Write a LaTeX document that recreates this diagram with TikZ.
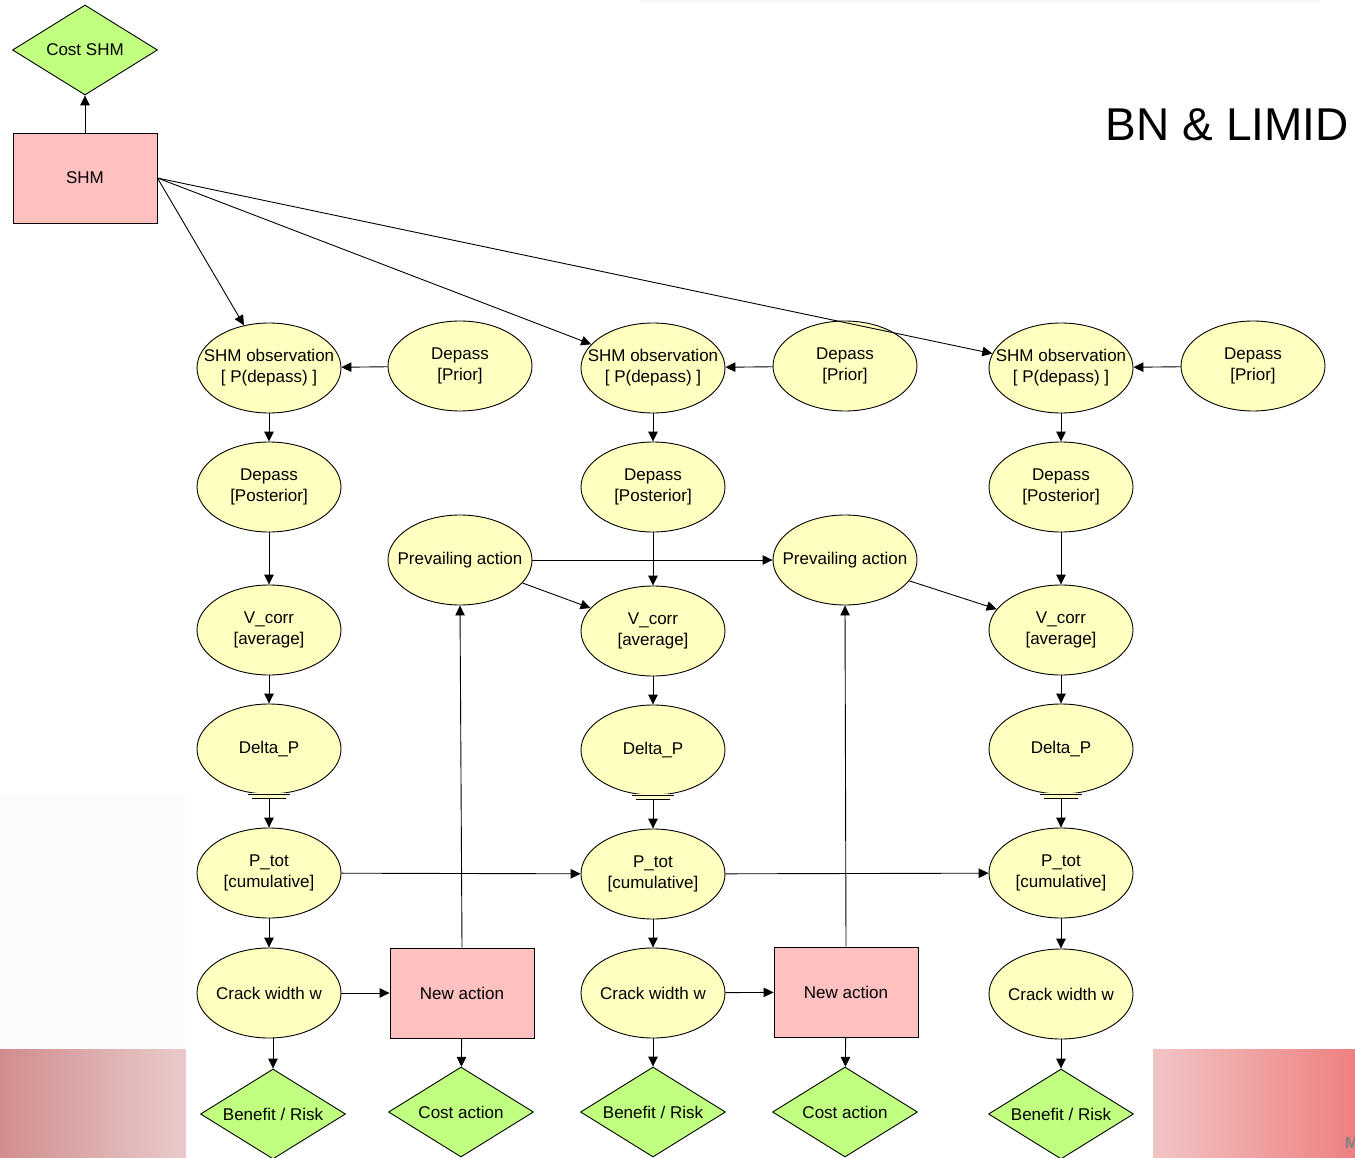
\documentclass[tikz,border=0pt]{standalone}
\usepackage{fontspec}
\setmainfont{Liberation Sans}
\usetikzlibrary{shapes.geometric,arrows.meta,calc}
\definecolor{chancefill}{RGB}{255,255,192}
\definecolor{decfill}{RGB}{255,192,192}
\definecolor{utilfill}{RGB}{192,255,128}
\newcommand\bnfont{\fontsize{17}{21}\selectfont}
\begin{document}
\begin{tikzpicture}[x=1pt,y=-1pt,
  chance/.style={ellipse,draw=black,line width=0.9pt,fill=chancefill,
    minimum width=144pt,minimum height=90pt,inner xsep=-25pt,inner ysep=0pt,
    align=center,font=\bnfont},
  decision/.style={rectangle,draw=black,line width=0.9pt,fill=decfill,
    minimum width=144pt,minimum height=90pt,inner sep=0pt,font=\bnfont},
  utility/.style={diamond,draw=black,line width=0.9pt,fill=utilfill,aspect=1.6,
    minimum width=145pt,minimum height=90pt,inner sep=0pt,font=\bnfont},
  arr/.style={draw=black,line width=0.9pt,-{Triangle[length=10pt,width=9.5pt]}},
  dbl/.style={draw=black,line width=0.9pt}
]
% page frame
\useasboundingbox (0,0) rectangle (1355,1158);
\fill[white] (0,0) rectangle (1355,1158);

% slide background
\fill[gray!6] (640,0) rectangle (1320,3);
\fill[gray!2] (0,795) rectangle (185,1049);
\shade[left color={rgb,255:red,209;green,141;blue,142},right color={rgb,255:red,233;green,203;blue,203}]
  (0,1049) rectangle (186,1158);
\shade[left color={rgb,255:red,243;green,196;blue,197},right color={rgb,255:red,238;green,128;blue,128}]
  (1153,1049) rectangle (1355,1158);
\node[anchor=base west,inner sep=0pt,text=gray,font=\fontsize{16}{16}\selectfont\bfseries] (mark) at (1345,1148) {M};

% title
\node[anchor=base east,inner sep=0pt,font=\fontsize{46}{46}\selectfont] (title) at (1349,141) {BN \& LIMID};

% SHM decision
\node[utility]  (cshm) at (85,50)  {Cost SHM};
\node[decision] (shm)  at (85,178) {SHM};

% observation row
\node[chance] (o1) at (269,368)  {SHM observation\\{}[ P(depass) ]};
\node[chance] (o2) at (653,368)  {SHM observation\\{}[ P(depass) ]};
\node[chance] (o3) at (1061,368) {SHM observation\\{}[ P(depass) ]};
\node[chance] (p1) at (460,366)  {Depass\\{}[Prior]};
\node[chance] (p2) at (845,366)  {Depass\\{}[Prior]};
\node[chance] (p3) at (1253,366) {Depass\\{}[Prior]};

% posterior row
\node[chance] (post1) at (269,487)  {Depass\\{}[Posterior]};
\node[chance] (post2) at (653,487)  {Depass\\{}[Posterior]};
\node[chance] (post3) at (1061,487) {Depass\\{}[Posterior]};

% prevailing actions
\node[chance] (prev1) at (460,560) {Prevailing action};
\node[chance] (prev2) at (845,560) {Prevailing action};

% corrosion rate
\node[chance] (v1) at (269,630)  {V\_corr\\{}[average]};
\node[chance] (v2) at (653,631)  {V\_corr\\{}[average]};
\node[chance] (v3) at (1061,630) {V\_corr\\{}[average]};

% Delta_P
\node[chance] (d1) at (269,749)  {Delta\_P};
\node[chance] (d2) at (653,750)  {Delta\_P};
\node[chance] (d3) at (1061,749) {Delta\_P};
\foreach \n in {d1,d2,d3}{
  \fill[chancefill] ($(\n.south)+(-17,-1)$) rectangle ($(\n.south)+(17,3.5)$);
  \draw[dbl] ($(\n.south)+(-21,-0.5)$) -- ++(42,0);
  \draw[dbl] ($(\n.south)+(-17,3.5)$) -- ++(34,0);
}

% P_tot
\node[chance] (pt1) at (269,873)  {P\_tot\\{}[cumulative]};
\node[chance] (pt2) at (653,874)  {P\_tot\\{}[cumulative]};
\node[chance] (pt3) at (1061,873) {P\_tot\\{}[cumulative]};

% crack width and actions
\node[chance]   (cw1) at (269,993)  {Crack width w};
\node[chance]   (cw2) at (653,993)  {Crack width w};
\node[chance]   (cw3) at (1061,994) {Crack width w};
\node[decision] (na1) at (462,993)  {New action};
\node[decision] (na2) at (846,992)  {New action};

% utilities
\node[utility] (br1) at (273,1114)  {Benefit / Risk};
\node[utility] (br2) at (653,1112)  {Benefit / Risk};
\node[utility] (br3) at (1061,1114) {Benefit / Risk};
\node[utility] (ca1) at (461,1112)  {Cost action};
\node[utility] (ca2) at (845,1112)  {Cost action};

% connectors
\draw[arr] (shm) -- (cshm);
\draw[arr] (shm.east) -- (o1);
\draw[arr] (shm.east) -- (o2);
\draw[arr] (shm.east) -- (o3);

\foreach \i in {1,2,3}{
  \draw[arr] (p\i) -- (o\i);
  \draw[arr] (o\i) -- (post\i);
  \draw[arr] (post\i) -- (v\i);
  \draw[arr] (v\i) -- (d\i);
  \draw[arr] ($(d\i.south)+(0,4)$) -- (pt\i);
  \draw[arr] (pt\i) -- (cw\i);
  \draw[arr] (cw\i.south -| br\i.north) -- (br\i.north);
}

\draw[arr] (prev1) -- (prev2);
\draw[arr] (prev1) -- (v2);
\draw[arr] (prev2) -- (v3);

\draw[arr] (pt1) -- (pt2);
\draw[arr] (pt2) -- (pt3);

\draw[arr] (cw1) -- (na1);
\draw[arr] (cw2) -- (na2);
\draw[arr] (na1.north) -- (prev1.south);
\draw[arr] (na2.north) -- (prev2.south);
\draw[arr] (na1) -- (ca1);
\draw[arr] (na2) -- (ca2);
\end{tikzpicture}
\end{document}
